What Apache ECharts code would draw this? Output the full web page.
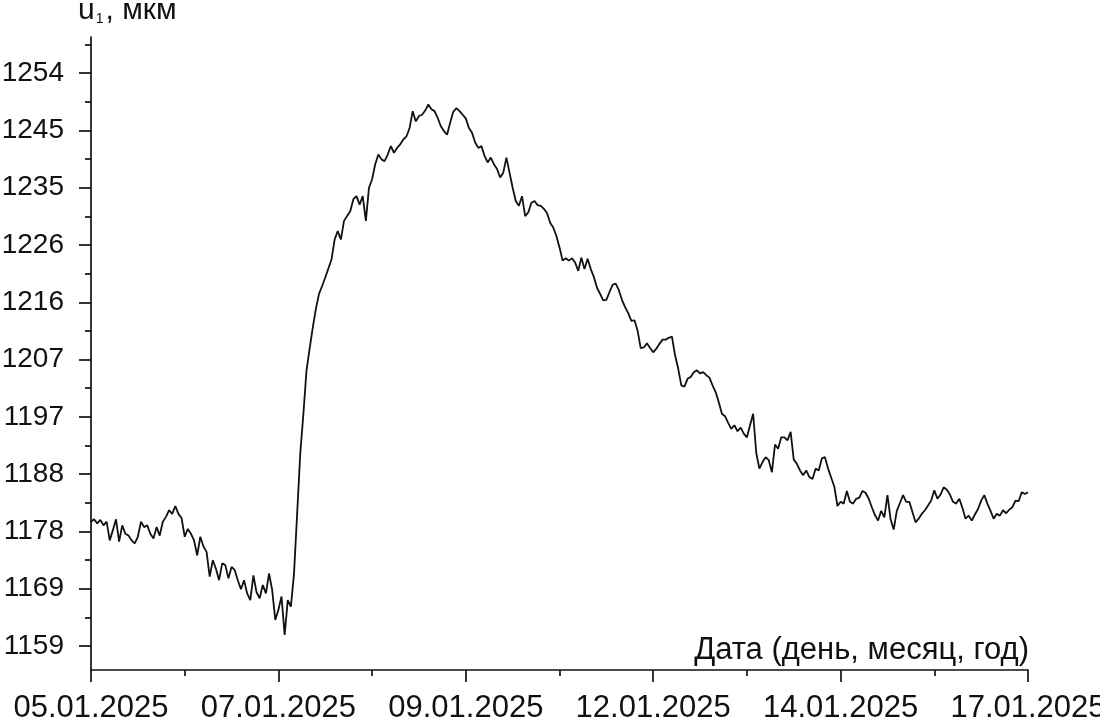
<!DOCTYPE html>
<html><head><meta charset="utf-8">
<script src="https://cdn.jsdelivr.net/npm/echarts@6/dist/echarts.min.js"></script>
<style>html,body{margin:0;padding:0;background:#fff}#c{width:1100px;height:719px}</style>
</head><body><div id="c"></div>
<script>
const xTickLabels = ['05.01.2025','07.01.2025','09.01.2025','12.01.2025','14.01.2025','17.01.2025'];
const xMajorTicks = [0,60,120,180,240,300];
const xMinorTicks = [30,90,150,210,270];
const yMajorTicks = [1159,1168.5,1178,1187.5,1197,1206.5,1216,1225.5,1235,1244.5,1254];
const yMinorTicks = [1163.75,1173.25,1182.75,1192.25,1201.75,1211.25,1220.75,1230.25,1239.75,1249.25,1258.75];
const yAxisTitle = ['u','1',', мкм'];
const xAxisTitle = 'Дата (день, месяц, год)';
const u1 = [
1179.6,1180.0,1179.3,1179.9,1179.0,1179.6,1176.5,1178.2,1180.0,1176.3,
1179.0,1177.6,1177.3,1176.5,1176.0,1177.1,1179.6,1178.7,1179.0,1177.6,
1176.8,1178.7,1177.3,1179.6,1180.4,1181.5,1180.9,1182.2,1180.9,1180.2,
1177.1,1178.4,1177.6,1176.5,1174.0,1177.1,1175.5,1174.6,1170.5,1173.2,
1171.8,1169.9,1172.7,1172.4,1170.2,1172.1,1171.6,1169.9,1168.4,1169.9,
1167.7,1166.6,1170.7,1167.9,1166.9,1169.1,1167.7,1171.0,1168.3,1163.3,
1165.0,1167.2,1160.8,1166.6,1165.5,1171.0,1180.9,1190.9,1197.5,1204.7,
1208.3,1211.8,1214.9,1217.4,1218.7,1220.1,1221.6,1223.1,1226.4,1227.8,
1226.4,1229.5,1230.3,1231.1,1233.1,1233.6,1232.2,1233.6,1229.5,1235.0,
1236.4,1238.9,1240.5,1239.7,1239.4,1240.5,1241.9,1240.8,1241.6,1242.2,
1243.0,1243.5,1244.9,1247.7,1246.0,1246.9,1247.1,1247.8,1248.8,1248.0,
1247.7,1246.6,1245.2,1244.4,1243.8,1245.8,1247.6,1248.2,1247.7,1247.1,
1246.5,1244.9,1244.1,1242.5,1241.6,1241.9,1240.3,1239.2,1240.0,1238.9,
1238.1,1236.7,1237.5,1240.0,1237.5,1235.0,1232.8,1232.0,1233.6,1230.3,
1230.9,1232.5,1232.8,1232.1,1232.0,1231.5,1230.8,1229.2,1228.4,1227.0,
1225.1,1222.9,1223.3,1222.9,1223.3,1222.6,1221.2,1223.4,1221.5,1223.2,
1221.5,1220.2,1218.4,1217.4,1216.3,1216.4,1217.7,1218.9,1219.1,1218.0,
1216.4,1215.2,1214.2,1212.9,1213.0,1211.3,1208.4,1208.5,1209.2,1208.4,
1207.7,1208.3,1209.1,1209.8,1209.8,1210.1,1210.3,1207.2,1205.0,1202.2,
1202.0,1203.3,1203.6,1204.4,1204.7,1204.2,1204.4,1203.9,1203.5,1202.2,
1201.1,1199.4,1197.5,1197.1,1196.0,1195.0,1195.6,1194.6,1195.2,1194.2,
1193.6,1195.6,1197.5,1191.0,1188.4,1189.5,1190.3,1189.8,1187.8,1192.4,
1191.7,1193.6,1193.6,1193.1,1194.5,1189.9,1189.2,1188.1,1187.3,1188.1,
1187.0,1186.7,1188.4,1188.1,1190.1,1190.3,1188.4,1186.9,1185.4,1182.2,
1182.9,1182.6,1184.7,1182.9,1182.6,1183.4,1183.6,1184.7,1184.4,1183.4,
1182.0,1180.7,1179.8,1181.4,1180.3,1184.0,1180.0,1178.3,1181.4,1182.7,
1184.0,1182.9,1182.9,1181.2,1179.5,1180.1,1180.9,1181.5,1182.3,1183.1,
1184.8,1183.4,1184.1,1185.3,1184.9,1184.1,1182.9,1182.6,1183.4,1181.9,
1180.1,1180.6,1179.8,1180.8,1181.7,1183.1,1184.0,1182.6,1181.4,1180.1,
1180.9,1180.6,1181.5,1181.0,1181.6,1182.0,1183.1,1183.0,1184.5,1184.2,1184.5
];

const FONT = "'Liberation Sans', Arial, sans-serif";
const INK = '#111';
const chart = echarts.init(document.getElementById('c'));
const lineStyleAxis = {color: INK, width: 1.7};

const option = {
  animation: false,
  backgroundColor: '#fff',
  grid: {left: 91, right: 72, top: 37, bottom: 49, containLabel: false, outerBoundsMode: 'none'},
  xAxis: [
    {
      type: 'value', min: 0, max: 300, position: 'bottom',
      axisLine: {lineStyle: lineStyleAxis},
      axisTick: {customValues: xMajorTicks, length: 12, lineStyle: lineStyleAxis},
      axisLabel: {
        customValues: xMajorTicks,
        formatter: v => xTickLabels[xMajorTicks.indexOf(v)],
        fontSize: 31, color: INK, fontFamily: FONT, margin: 23, hideOverlap: false
      },
      splitLine: {show: false}
    },
    {
      type: 'value', min: 0, max: 300, position: 'bottom', offset: 0,
      axisLine: {show: false},
      axisTick: {customValues: xMinorTicks, length: 6, lineStyle: lineStyleAxis},
      axisLabel: {show: false},
      splitLine: {show: false}
    }
  ],
  yAxis: [
    {
      type: 'value', min: 1155, max: 1260, position: 'left',
      axisLine: {show: true, lineStyle: lineStyleAxis},
      axisTick: {show: true, customValues: yMajorTicks, length: 12, lineStyle: lineStyleAxis},
      axisLabel: {
        customValues: yMajorTicks,
        formatter: v => String(Math.round(v)),
        fontSize: 28, color: INK, fontFamily: FONT, margin: 27
      },
      splitLine: {show: false}
    },
    {
      type: 'value', min: 1155, max: 1260, position: 'left', offset: 0,
      axisLine: {show: false},
      axisTick: {show: true, customValues: yMinorTicks, length: 6, lineStyle: lineStyleAxis},
      axisLabel: {show: false},
      splitLine: {show: false}
    }
  ],
  graphic: [
    {
      type: 'text', left: 78, top: -4, silent: true,
      style: {
        text: '{a|' + yAxisTitle[0] + '}{b|' + yAxisTitle[1] + '}{a|' + yAxisTitle[2] + '}',
        rich: {
          a: {fontSize: 30, fontFamily: FONT, fill: INK, lineHeight: 30},
          b: {fontSize: 14, fontFamily: FONT, fill: INK, lineHeight: 14, verticalAlign: 'bottom', padding: [0, 2, 0, 1]}
        }
      }
    },
    {
      type: 'text', right: 71, top: 635, silent: true,
      style: {text: xAxisTitle, fontSize: 31, fontFamily: FONT, fill: INK}
    }
  ],
  series: [{
    type: 'line', xAxisIndex: 0, yAxisIndex: 0,
    data: u1.map((v, i) => [i, v]),
    symbol: 'none', showSymbol: false,
    lineStyle: {color: INK, width: 1.8},
    silent: true
  }]
};
chart.setOption(option);
</script></body></html>
